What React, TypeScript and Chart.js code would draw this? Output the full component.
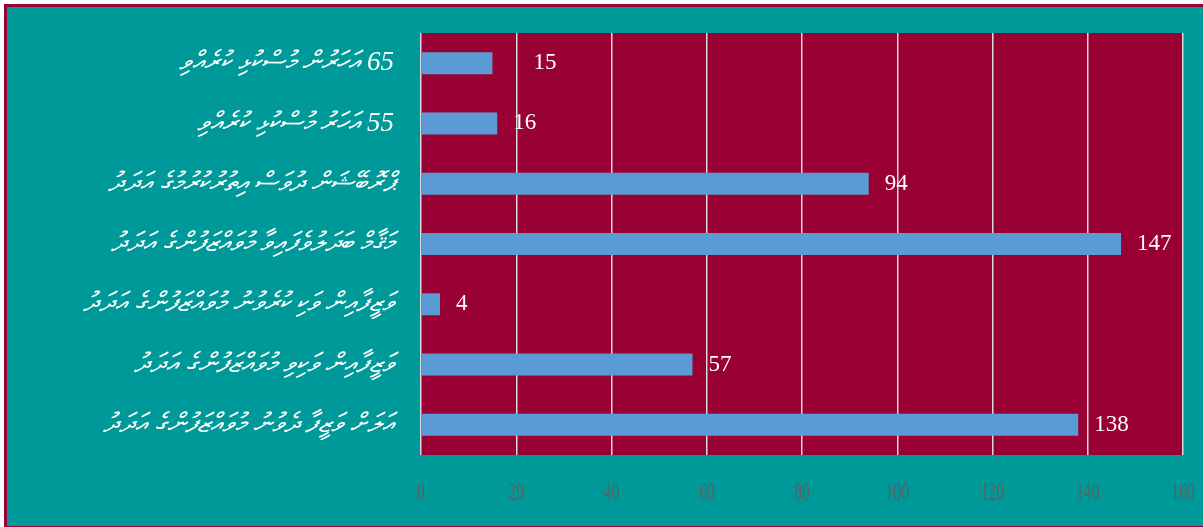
import { useEffect, useRef } from "react";
import { Chart, registerables } from "chart.js";

Chart.register(...registerables);

const CATEGORIES = [
  "65 އަހަރުން މުސްކުޅި ކުރެއްވި",
  "55 އަހަރު މުސްކުޅި ކުރެއްވި",
  "ޕްރޮބޭޝަން ދުވަސް އިތުރުކުރުމުގެ އަދަދު",
  "މަޤާމް ބަދަލުވެފައިވާ މުވައްޒަފުންގެ އަދަދު",
  "ވަޒީފާއިން ވަކި ކުރެވުނު މުވައްޒަފުންގެ އަދަދު",
  "ވަޒީފާއިން ވަކިވި މުވައްޒަފުންގެ އަދަދު",
  "އަލަށް ވަޒީފާ ދެވުނު މުވައްޒަފުންގެ އަދަދު",
];
const VALUES = [15, 16, 94, 147, 4, 57, 138];
const X_MIN = 0;
const X_MAX = 160;
const X_STEP = 20;

const TEAL = "#009999";
const MAROON = "#990033";
const BAR = "#5b9bd5";
const GRID = "#d9d9d9";
const TICK_GRAY = "#5f5f5f";
const SERIF = "'Liberation Serif', 'Times New Roman', serif";

const plotBackground = {
  id: "plotBackground",
  beforeDraw(chart: any) {
    const { ctx, chartArea } = chart;
    ctx.save();
    ctx.fillStyle = MAROON;
    ctx.fillRect(chartArea.left, chartArea.top, chartArea.right - chartArea.left, chartArea.bottom - chartArea.top);
    ctx.restore();
  },
};

const valueLabels = {
  id: "valueLabels",
  afterDatasetsDraw(chart: any) {
    const { ctx } = chart;
    const meta = chart.getDatasetMeta(0);
    const data = chart.data.datasets[0].data;
    ctx.save();
    ctx.fillStyle = "#ffffff";
    ctx.font = `23px ${SERIF}`;
    ctx.textAlign = "left";
    ctx.textBaseline = "middle";
    meta.data.forEach((bar: any, i: number) => {
      const extra = i === 0 ? 25 : 0;
      ctx.fillText(String(data[i]), bar.x + 16 + extra, bar.y);
    });
    ctx.restore();
  },
};

const xTickLabels = {
  id: "xTickLabels",
  afterDraw(chart: any) {
    const { ctx } = chart;
    const scale = chart.scales.x;
    ctx.save();
    ctx.fillStyle = TICK_GRAY;
    ctx.font = `26px ${SERIF}`;
    ctx.textAlign = "center";
    ctx.textBaseline = "alphabetic";
    scale.ticks.forEach((t: any) => {
      const x = scale.getPixelForValue(t.value);
      ctx.save();
      ctx.translate(x, 500);
      ctx.scale(0.6, 1);
      ctx.fillText(String(t.value), 0, 0);
      ctx.restore();
    });
    ctx.restore();
  },
};

export default function App() {
  const canvasRef = useRef<HTMLCanvasElement | null>(null);

  useEffect(() => {
    document.body.style.margin = "0";
    const canvas = canvasRef.current;
    if (!canvas) return;
    const chart = new Chart(canvas, {
      type: "bar",
      data: {
        labels: CATEGORIES,
        datasets: [
          {
            data: VALUES,
            backgroundColor: BAR,
            borderWidth: 0,
            barPercentage: 0.365,
            categoryPercentage: 1,
          },
        ],
      },
      options: {
        indexAxis: "y",
        animation: false,
        responsive: false,
        devicePixelRatio: 1,
        layout: { padding: { top: 33, right: 20, left: 0, bottom: 0 } },
        plugins: {
          legend: { display: false },
          tooltip: { enabled: false },
          title: { display: false },
        },
        scales: {
          x: {
            min: X_MIN,
            max: X_MAX,
            afterFit(scale: any) {
              scale.height = 72;
              scale.paddingLeft = 0;
              scale.paddingRight = 0;
            },
            ticks: { stepSize: X_STEP, display: false },
            grid: { color: GRID, lineWidth: 1.5, drawTicks: false },
            border: { display: false },
          },
          y: {
            afterFit(scale: any) {
              scale.width = 421;
              scale.paddingTop = 0;
              scale.paddingBottom = 0;
            },
            grid: { display: false, drawTicks: false },
            border: { display: false },
            ticks: {
              color: "#ffffff",
              padding: 27,
              font: { size: 27, family: "'Liberation Serif', 'DejaVu Sans', serif", style: "italic" },
              callback(this: any, value: any) {
                return "\u2067" + this.getLabelForValue(value) + "\u2069";
              },
            },
          },
        },
      },
      plugins: [plotBackground, valueLabels, xTickLabels],
    });
    return () => chart.destroy();
  }, []);

  return (
    <div style={{ position: "relative", width: 1203, height: 527, overflow: "hidden", background: "#ffffff" }}>
      <div
        style={{
          position: "absolute",
          left: 4,
          top: 4,
          width: 1215,
          height: 525,
          boxSizing: "border-box",
          border: `3px solid ${MAROON}`,
          background: TEAL,
        }}
      />
      <canvas
        ref={canvasRef}
        width={1203}
        height={527}
        style={{ position: "absolute", left: 0, top: 0, width: 1203, height: 527 }}
      />
    </div>
  );
}
